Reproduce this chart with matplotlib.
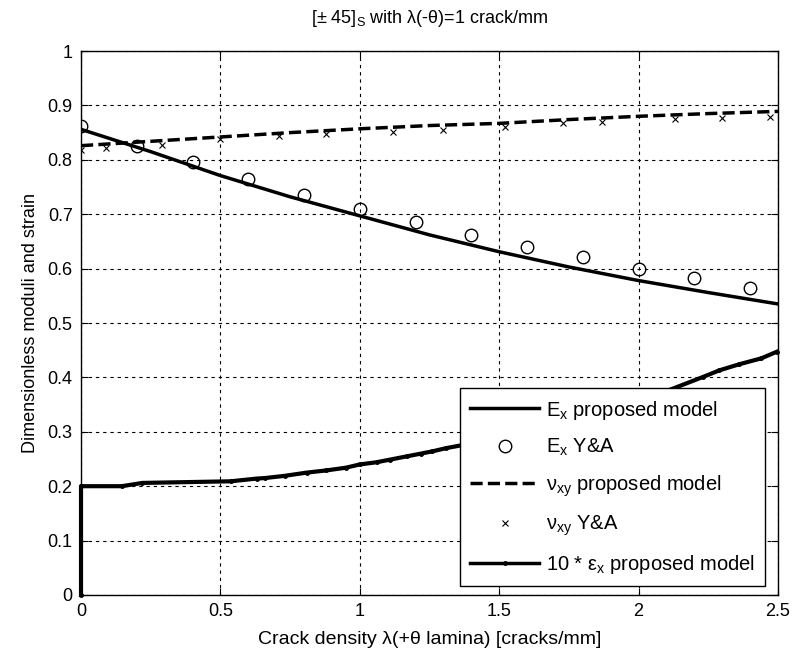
import numpy as np
import matplotlib.pyplot as plt

plt.rcParams['font.family'] = ['Liberation Sans', 'DejaVu Sans']
plt.rcParams['mathtext.fontset'] = 'custom'
plt.rcParams['mathtext.rm'] = 'Liberation Sans'
plt.rcParams['mathtext.it'] = 'Liberation Sans:italic'

# Ex, proposed model
ex_model_x = [0, 0.25, 0.5, 0.75, 1.0, 1.25, 1.5, 1.75, 2.0, 2.25, 2.5]
ex_model_y = [0.856, 0.815, 0.771, 0.732, 0.697, 0.662, 0.631, 0.603, 0.578, 0.556, 0.535]

# Ex, Y&A
ex_ya_x = [0, 0.2, 0.4, 0.6, 0.8, 1.0, 1.2, 1.4, 1.6, 1.8, 2.0, 2.2, 2.4]
ex_ya_y = [0.863, 0.825, 0.796, 0.765, 0.736, 0.71, 0.686, 0.662, 0.639, 0.621, 0.600, 0.582, 0.565]

# nu_xy, proposed model
nu_model_x = [0, 0.25, 0.5, 0.75, 1.0, 1.25, 1.5, 1.75, 2.0, 2.25, 2.5]
nu_model_y = [0.826, 0.834, 0.842, 0.850, 0.857, 0.863, 0.867, 0.874, 0.880, 0.885, 0.889]

# nu_xy, Y&A
nu_ya_x = [0, 0.09, 0.29, 0.5, 0.71, 0.88, 1.12, 1.30, 1.52, 1.73, 1.87, 2.13, 2.30, 2.47]
nu_ya_y = [0.818, 0.821, 0.828, 0.838, 0.843, 0.848, 0.852, 0.855, 0.861, 0.867, 0.869, 0.875, 0.876, 0.878]

# 10 * eps_x, proposed model
eps_x = [0, 0, 0.146, 0.22, 0.537, 0.63, 0.66, 0.73, 0.81, 0.88, 0.95, 1.0, 1.06, 1.11,
         1.17, 1.22, 1.26, 1.31, 1.5, 1.75, 2.0, 2.232, 2.29, 2.36, 2.44, 2.495]
eps_y = [0, 0.2, 0.2, 0.206, 0.209, 0.214, 0.215, 0.219, 0.225, 0.229, 0.234, 0.240, 0.244, 0.249,
         0.255, 0.260, 0.264, 0.270, 0.288, 0.318, 0.355, 0.401, 0.413, 0.424, 0.435, 0.447]

fig = plt.figure(figsize=(7.92, 6.6), dpi=100)
ax = fig.add_axes([0.1023, 0.0985, 0.880, 0.8242])

ax.plot(ex_model_x, ex_model_y, '-', color='k', lw=2.5, label=r'E$_\mathrm{x}$ proposed model')
ax.plot(ex_ya_x, ex_ya_y, 'o', mfc='none', mec='k', mew=1.0, ms=9, label=r'E$_\mathrm{x}$ Y&A')
ax.plot(nu_model_x, nu_model_y, '--', color='k', lw=2.5, dashes=(3.5, 1.5),
        label=r'ν$_\mathrm{xy}$ proposed model')
ax.plot(nu_ya_x, nu_ya_y, 'x', color='k', mew=0.8, ms=5, label=r'ν$_\mathrm{xy}$ Y&A')
ax.plot(eps_x, eps_y, '-', color='k', lw=3, marker='.', ms=5, clip_on=False, zorder=3,
        label=r'10 * ε$_\mathrm{x}$ proposed model')

ax.set_xlim(0, 2.5)
ax.set_ylim(0, 1)
ax.set_xticks(np.arange(0, 2.51, 0.5))
ax.set_xticklabels(['0', '0.5', '1', '1.5', '2', '2.5'])
ax.set_yticks(np.arange(0, 1.01, 0.1))
ax.set_yticklabels(['0', '0.1', '0.2', '0.3', '0.4', '0.5', '0.6', '0.7', '0.8', '0.9', '1'])
ax.tick_params(direction='in', top=True, right=True, length=5, width=0.8, labelsize=13, pad=6)
ax.grid(True, color='k', lw=0.8, linestyle=(0, (3, 3.5)))
for s in ax.spines.values():
    s.set_linewidth(1.0)

ax.set_title(r'[± 45]$_\mathrm{S}$ with λ(-θ)=1 crack/mm', fontsize=13, pad=20)
ax.set_xlabel('Crack density λ(+θ lamina) [cracks/mm]', fontsize=14, labelpad=8)
ax.set_ylabel('Dimensionless moduli and strain', fontsize=13, labelpad=6)

leg = ax.legend(loc='lower right', bbox_to_anchor=(0.981, 0.016), borderaxespad=0,
                fontsize=14.5, numpoints=1, handlelength=3.4, labelspacing=0.75,
                handletextpad=0.35, borderpad=0.5, fancybox=False, framealpha=1,
                edgecolor='k')
leg.get_frame().set_linewidth(1.0)
leg.get_lines()[4].set_linewidth(2.5)

fig.savefig('out.png', dpi=100)
